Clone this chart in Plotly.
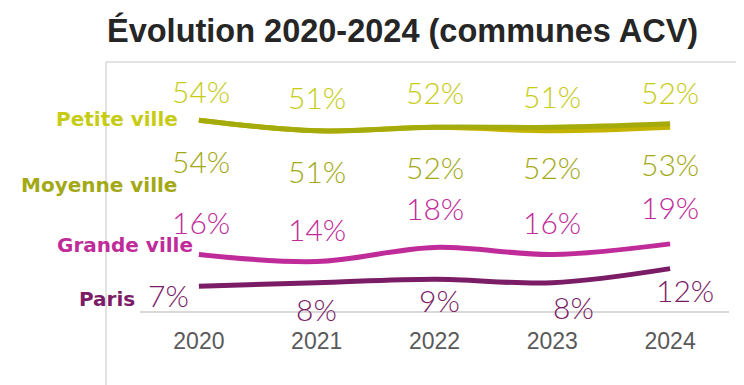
import plotly.graph_objects as go

years = ["2020", "2021", "2022", "2023", "2024"]
series_names = ["Paris", "Grande ville", "Petite ville", "Moyenne ville"]
paris = [7, 8, 9, 8, 12]
grande = [16, 14, 18, 16, 19]
petite = [54, 51, 52, 51, 52]
moyenne = [54, 51, 52, 52, 53]
title_text = "Évolution 2020-2024 (communes ACV)"

values = {"Paris": paris, "Grande ville": grande, "Petite ville": petite, "Moyenne ville": moyenne}

# styles
line_colors = {"Paris": "#7b1c66", "Grande ville": "#c02b9a", "Petite ville": "#c4b300", "Moyenne ville": "#a5ab0a"}
label_colors = {"Paris": "#7b1c66", "Grande ville": "#c02b9a", "Petite ville": "#c6cc14", "Moyenne ville": "#a3a915"}
# data label pixel offsets (xshift, yshift)
label_offsets = {
    "Petite ville": [(2, 29), (0, 34), (0, 35), (0, 35), (0, 35)],
    "Moyenne ville": [(2, -41), (0, -40), (0, -40), (0, -40), (0, -40)],
    "Grande ville": [(2, 32), (0, 33), (0, 39), (0, 32), (0, 37)],
    "Paris": [(-30, -9), (0, -26), (5, -21), (21, -24), (15, -21)],
}
# series name label offsets relative to the 2020 point (xshift, yshift)
name_offsets = {
    "Petite ville": (-19, 1),
    "Moyenne ville": (-20, -65),
    "Grande ville": (-4, 9),
    "Paris": (-62, -13),
}

LABEL_FONT = "Lato"
fig = go.Figure()
for name in series_names:
    fig.add_trace(go.Scatter(
        x=years, y=values[name], mode="lines",
        line=dict(color=line_colors[name], width=5, shape="spline", smoothing=1),
        name=name, showlegend=False, hoverinfo="skip",
    ))

annotations = []
for name in series_names:
    for i, v in enumerate(values[name]):
        dx, dy = label_offsets[name][i]
        annotations.append(dict(
            x=i, y=v, xref="x", yref="y", text=f"{v}%", showarrow=False,
            xshift=dx, yshift=dy, xanchor="center", yanchor="middle",
            font=dict(family=LABEL_FONT, size=30, color=label_colors[name], weight=300),
        ))
    dx, dy = name_offsets[name]
    annotations.append(dict(
        x=0, y=values[name][0], xref="x", yref="y", text=f"<b>{name}</b>",
        showarrow=False, xshift=dx, yshift=dy, xanchor="right", yanchor="middle",
        font=dict(family="DejaVu Sans", size=20, color=label_colors[name]),
    ))

annotations.append(dict(
    x=0.445, y=1.325, xref="paper", yref="paper", xanchor="center", yanchor="middle",
    text=f"<b>{title_text}</b>", showarrow=False,
    font=dict(family="Liberation Sans", size=32.5, color="#262626"),
))

fig.update_layout(
    width=744, height=385,
    margin=dict(l=132, r=23, t=91, b=82),
    paper_bgcolor="white", plot_bgcolor="white",
    annotations=annotations,
    xaxis=dict(type="category", showline=True, linecolor="#d9d9d9", linewidth=1.5,
               showgrid=False, zeroline=False, ticks="", ticklabelstandoff=9,
               tickfont=dict(family="Liberation Sans", size=23, color="#595959"),
               range=[-0.5, 4.5], fixedrange=True),
    yaxis=dict(visible=False, range=[0, 60], fixedrange=True),
    shapes=[dict(type="rect", xref="paper", yref="paper",
                 x0=-0.0577, x1=1.08, y0=-0.45, y1=1.1745,
                 line=dict(color="#d9d9d9", width=1.5), fillcolor="rgba(0,0,0,0)", layer="below")],
)
fig.write_html("out.html")
